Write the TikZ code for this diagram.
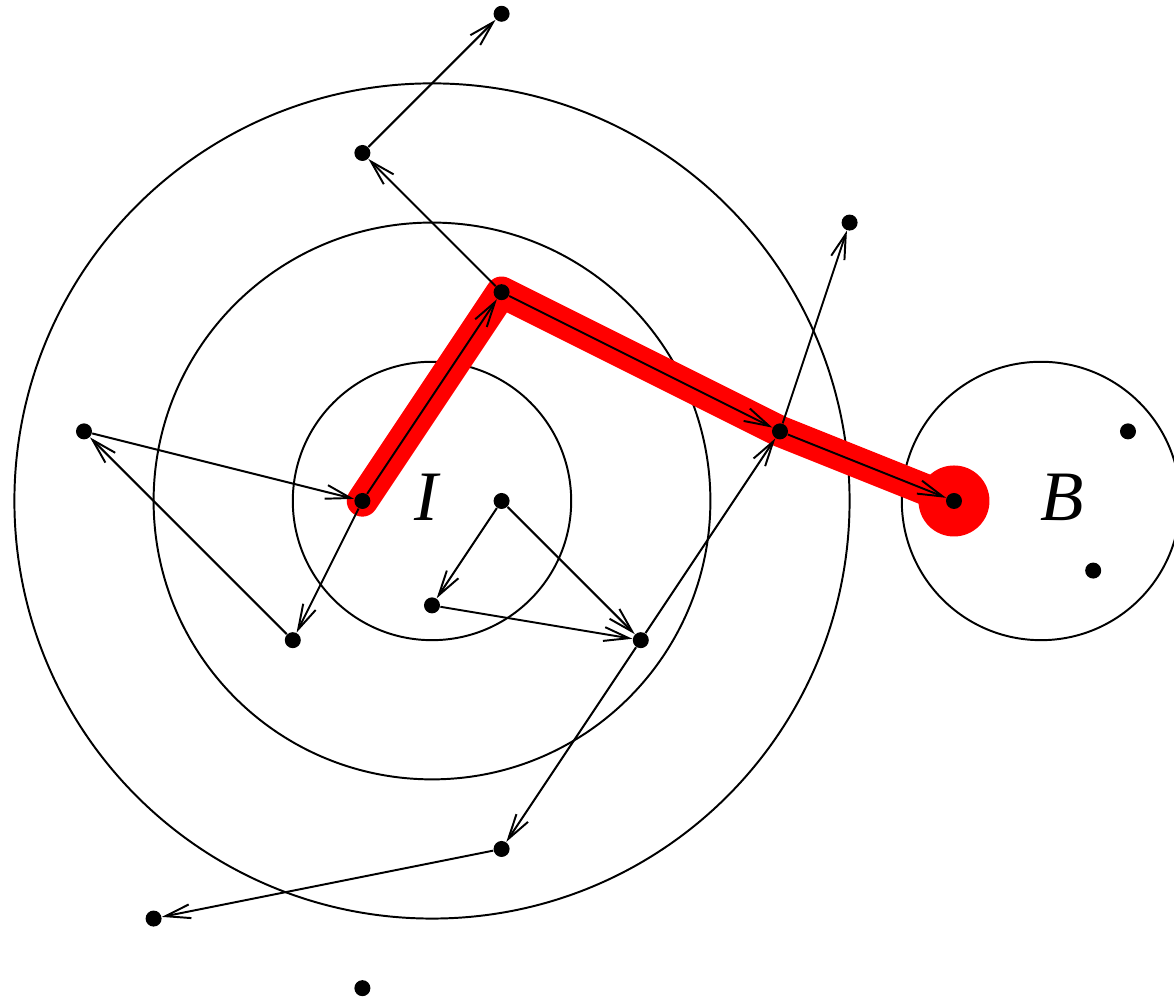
\documentclass[tikz,border=0pt]{standalone}
\usepackage{fontspec}
\newfontfamily\lblfont{Liberation Serif}
\usetikzlibrary{arrows.meta}
\begin{document}
\begin{tikzpicture}[
  dot/.style={circle,fill=black,inner sep=0pt,minimum size=0.23cm},
  arr/.style={line width=0.8pt,-{Straight Barb[length=0.36cm,width=0.2cm,line width=0.8pt]}},
  ring/.style={line width=0.8pt},
  redpath/.style={red,line width=0.45cm,line cap=round,line join=round},
  lbl/.style={font=\lblfont\itshape\fontsize{29}{32}\selectfont,inner sep=0pt}
]
\useasboundingbox (-6.207,-7.141) rectangle (10.661,7.198);
\draw[ring] (0,0) circle (2);
\draw[ring] (0,0) circle (4);
\draw[ring] (0,0) circle (6);
\draw[ring] (8.75,0) circle (2);
% path coordinates
\coordinate (pI) at (-1,0);
\coordinate (pA) at (1,3);
\coordinate (pC) at (5,1);
\coordinate (pB) at (7.5,0);
\draw[redpath] (pI) -- (pA) -- (pC) -- (pB);
\fill[red] (pB) circle (0.51);
\node[dot] (n1) at (1,7) {};
\node[dot] (n2) at (-1,5) {};
\node[dot] (n3) at (6,4) {};
\node[dot] (n4) at (1,3) {};
\node[dot] (n5) at (-5,1) {};
\node[dot] (n6) at (5,1) {};
\node[dot] (n7) at (10,1) {};
\node[dot] (n8) at (-1,0) {};
\node[dot] (n9) at (1,0) {};
\node[dot] (n10) at (7.5,0) {};
\node[dot] (n11) at (9.5,-1) {};
\node[dot] (n12) at (0,-1.5) {};
\node[dot] (n13) at (-2,-2) {};
\node[dot] (n14) at (3,-2) {};
\node[dot] (n15) at (1,-5) {};
\node[dot] (n16) at (-4,-6) {};
\node[dot] (n17) at (-1,-7) {};
\node[lbl] (labI) at (-0.08,0.05) {I};
\node[lbl] (labB) at (9.05,0.05) {B};
% arrows
\draw[arr] (n2) -- (n1);
\draw[arr] (n4) -- (n2);
\draw[arr] (n8) -- (n4);
\draw[arr] (n4) -- (n6);
\draw[arr] (n6) -- (n10);
\draw[arr] (n6) -- (n3);
\draw[arr] (n5) -- (n8);
\draw[arr] (n13) -- (n5);
\draw[arr] (n8) -- (n13);
\draw[arr] (n9) -- (n12);
\draw[arr] (n9) -- (n14);
\draw[arr] (n12) -- (n14);
\draw[arr] (n14) -- (n6);
\draw[arr] (n14) -- (n15);
\draw[arr] (n15) -- (n16);
\end{tikzpicture}
\end{document}
